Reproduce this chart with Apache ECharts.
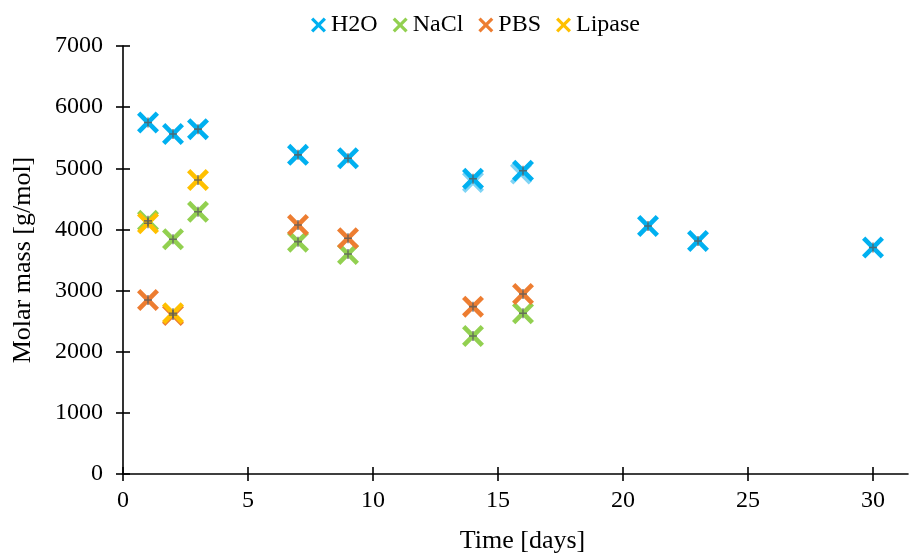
<!DOCTYPE html>
<html>
<head>
<meta charset="utf-8">
<script src="https://cdn.jsdelivr.net/npm/echarts@6/dist/echarts.min.js"></script>
<style>
html,body{margin:0;padding:0;background:#fff;}
#chart{width:911px;height:554px;}
</style>
</head>
<body>
<div id="chart"></div>
<script>
// ---- data ----
var seriesNames = ['H2O', 'NaCl', 'PBS', 'Lipase'];
var h2oDays = [1, 2, 3, 7, 9, 14, 16, 21, 23, 30];
var h2oMass = [5750, 5560, 5640, 5220, 5165, 4830, 4960, 4056, 3811, 3705];
var h2oBDays = [14, 15.92];
var h2oBMass = [4775, 4915];
var naclDays = [1, 2, 3, 7, 9, 14, 16];
var naclMass = [4140, 3840, 4290, 3800, 3598, 2257, 2628];
var pbsDays = [1, 2, 7, 9, 14, 16];
var pbsMass = [2846, 2600, 4073, 3855, 2737, 2944];
var lipaseDays = [1, 2, 3];
var lipaseMass = [4100, 2628, 4809];
var xTicks = [0, 5, 10, 15, 20, 25, 30];
var yTicks = [0, 1000, 2000, 3000, 4000, 5000, 6000, 7000];

function pairs(xs, ys) { return xs.map(function (x, i) { return [x, ys[i]]; }); }

var t = 1.5;
var xPath = 'path://M0,' + t + 'L' + t + ',0L5,' + (5 - t) + 'L' + (10 - t) + ',0L10,' + t + 'L' + (5 + t) + ',5L10,' + (10 - t) + 'L' + (10 - t) + ',10L5,' + (5 + t) + 'L' + t + ',10L0,' + (10 - t) + 'L' + (5 - t) + ',5Z';
var plusPath = 'path://M4.1,0H5.9V4.2H10V5.8H5.9V10H4.1V5.8H0V4.2H4.1Z';

var colors = { 'H2O': '#00B0F0', 'NaCl': '#92D050', 'PBS': '#ED7D31', 'Lipase': '#FFC000' };
var font = 'Liberation Serif';

function sc(name, data, color, z) {
  return {
    name: name, type: 'scatter', data: data, symbol: xPath, symbolSize: 22,
    itemStyle: { color: color, opacity: 1 }, z: z,
    emphasis: { disabled: true }, animation: false
  };
}

var allPts = [].concat(pairs(h2oDays, h2oMass), pairs(naclDays, naclMass), pairs(pbsDays, pbsMass), pairs(lipaseDays, lipaseMass));

var xMin = 0, xMax = 31.4, yMin = 0, yMax = 7000;
var axisLineStyle = { color: '#000', width: 1.6 };
var hiddenLine = { color: 'rgba(0,0,0,0)', width: 1 };

var chart = echarts.init(document.getElementById('chart'), null, { renderer: 'canvas' });
chart.setOption({
  backgroundColor: '#fff',
  animation: false,
  textStyle: { fontFamily: font },
  legend: {
    data: seriesNames,
    top: 8, left: 306, itemGap: 15, itemWidth: 15, itemHeight: 15,
    icon: xPath,
    textStyle: { fontFamily: font, fontSize: 24, color: '#000' }
  },
  grid: { left: 123, right: 3, top: 46, bottom: 80, containLabel: false, outerBoundsMode: 'none' },
  xAxis: [{
    type: 'value', min: xMin, max: xMax, interval: 5, position: 'bottom',
    name: 'Time [days]', nameLocation: 'middle', nameGap: 54,
    nameTextStyle: { fontFamily: font, fontSize: 26, color: '#000', padding: [0, 0, 0, 14] },
    axisLine: { show: true, onZero: false, lineStyle: axisLineStyle },
    axisTick: { show: true, inside: false, length: 7, lineStyle: axisLineStyle, customValues: xTicks },
    axisLabel: { fontFamily: font, fontSize: 24, color: '#000', margin: 15, customValues: xTicks },
    splitLine: { show: false }
  }, {
    type: 'value', min: xMin, max: xMax, interval: 5, position: 'bottom',
    axisLine: { show: true, onZero: false, lineStyle: hiddenLine },
    axisTick: { show: true, inside: true, length: 7, lineStyle: axisLineStyle, customValues: xTicks },
    axisLabel: { show: false }, splitLine: { show: false }
  }],
  yAxis: [{
    type: 'value', min: yMin, max: yMax, interval: 1000, position: 'left',
    name: 'Molar mass [g/mol]', nameLocation: 'middle', nameGap: 87,
    nameTextStyle: { fontFamily: font, fontSize: 26, color: '#000' },
    axisLine: { show: true, onZero: false, lineStyle: axisLineStyle },
    axisTick: { show: true, inside: false, length: 7, lineStyle: axisLineStyle, customValues: yTicks },
    axisLabel: { fontFamily: font, fontSize: 24, color: '#000', margin: 20, customValues: yTicks,
      formatter: function (v) { return String(v); } },
    splitLine: { show: false }
  }, {
    type: 'value', min: yMin, max: yMax, interval: 1000, position: 'left',
    axisLine: { show: true, onZero: false, lineStyle: hiddenLine },
    axisTick: { show: true, inside: true, length: 7, lineStyle: axisLineStyle, customValues: yTicks },
    axisLabel: { show: false }, splitLine: { show: false }
  }],
  series: [
    sc('H2O-b', pairs(h2oBDays, h2oBMass), '#7FD4F5', 2),
    sc('H2O', pairs(h2oDays, h2oMass), colors['H2O'], 3),
    sc('NaCl', pairs(naclDays, naclMass), colors['NaCl'], 4),
    sc('PBS', pairs(pbsDays, pbsMass), colors['PBS'], 5),
    sc('Lipase', pairs(lipaseDays, lipaseMass), colors['Lipase'], 6),
    {
      name: 'err', type: 'scatter', data: allPts, symbol: plusPath, symbolSize: [8, 10],
      itemStyle: { color: '#595959' }, z: 10, silent: true, animation: false
    }
  ]
});
</script>
</body>
</html>
